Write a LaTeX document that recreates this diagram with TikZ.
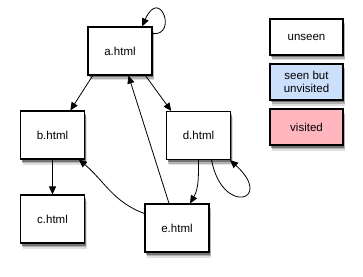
\documentclass[tikz,border=0pt]{standalone}
\usepackage{fontspec}
\setmainfont{Liberation Sans}
\usetikzlibrary{shadows,arrows.meta}
\definecolor{seenblue}{RGB}{204,224,252}
\definecolor{visitpink}{RGB}{255,182,190}
\begin{document}
\begin{tikzpicture}[x=1pt,y=1pt,
  softshadow/.style={
    drop shadow={shadow xshift=2pt, shadow yshift=-5.5pt, opacity=0.12, fill=black},
    drop shadow={shadow xshift=1.5pt, shadow yshift=-4pt, opacity=0.2, fill=black},
    drop shadow={shadow xshift=1pt, shadow yshift=-2.5pt, opacity=0.35, fill=black}},
  box/.style={draw, line width=1.1pt, fill=white, minimum width=64pt, minimum height=48pt, inner sep=0pt,
    font=\fontsize{11.5}{13}\selectfont, softshadow},
  legend/.style={box, minimum width=73pt, minimum height=36pt, align=center, font=\fontsize{11.5}{12.5}\selectfont},
  arr/.style={line width=0.8pt, -{Triangle[length=8pt,width=7pt]}}]
\useasboundingbox (0,0) rectangle (363,276);
\node[box] (a) at (120,225) {a.html};
\node[box] (b) at (52.5,141) {b.html};
\node[box] (c) at (52.5,57) {c.html};
\node[box] (d) at (198.5,140.5) {d.html};
\node[box] (e) at (177,48) {e.html};
\node[legend] (l1) at (306.5,239) {unseen};
\node[legend, fill=seenblue] (l2) at (306.5,194) {seen but\\unvisited};
\node[legend, fill=visitpink] (l3) at (306.5,149) {visited};
\draw[arr] (a.222) -- (b.54);
\draw[arr] (a.316) -- (d.138);
\draw[arr] (b.south) -- (c.north);
\draw[arr] (e.108) -- (a.289);
\draw[arr] (e.156) to[out=160, in=-40] (b.317);
\draw[arr] (d.south) to[out=-90, in=60] (e.62);
\draw[arr] (d.-62) .. controls (222,60) and (275,75) .. ([xshift=-1pt]d.south east);
\draw[arr] (a.28) .. controls (178,240) and (160,290) .. (a.48);
\end{tikzpicture}
\end{document}
